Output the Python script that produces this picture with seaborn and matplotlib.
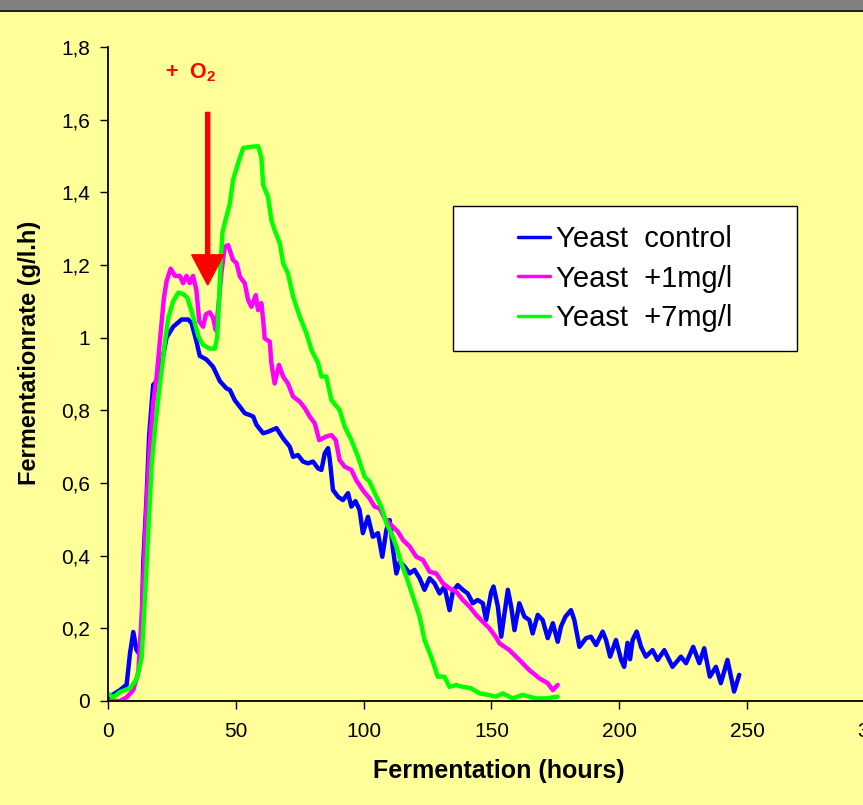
import pandas as pd
import matplotlib
matplotlib.use("Agg")
import matplotlib.pyplot as plt
import seaborn as sns
from matplotlib.patches import Rectangle, FancyArrow
from matplotlib.lines import Line2D

# values
hours_control = [0, 2.5, 4.7, 7.3, 8.6, 9.9, 11.2, 12.2, 13.2, 13.8, 15.1, 16.1, 17.1, 17.7, 19.0,
                 21.0, 22.9, 25.5, 28.8, 31.4, 32.7, 34.6, 35.9, 38.5, 41.1, 43.8, 46.4, 47.7, 49.6,
                 51.6, 53.5, 55.5, 56.8, 58.1, 60.7, 62.6, 65.9, 68.5, 71.1, 72.4, 74.3, 76.3, 78.2,
                 80.2, 82.2, 83.5, 84.8, 86.1, 86.7, 88.0, 90.0, 91.9, 93.9, 95.2, 96.8, 98.4, 99.7,
                 101.7, 103.6, 105.6, 107.3, 108.9, 110.2, 111.5, 112.8, 114.1, 116.0, 118.0, 119.9,
                 121.9, 123.8, 125.8, 127.7, 129.7, 131.6, 133.6, 134.9, 136.8, 138.8, 140.7, 142.7,
                 144.6, 146.6, 147.9, 149.9, 150.8, 152.5, 153.8, 155.1, 156.4, 157.7, 159.0, 160.9,
                 162.9, 164.8, 166.1, 168.1, 170.0, 172.0, 174.0, 175.9, 177.2, 178.9, 181.1, 182.4,
                 184.4, 187.0, 188.9, 190.9, 193.5, 194.8, 196.4, 198.7, 200.7, 201.9, 203.2, 204.2,
                 205.2, 206.8, 208.5, 210.4, 213.0, 215.0, 217.6, 220.8, 224.1, 226.1, 228.9, 231.3,
                 233.2, 235.4, 237.8, 239.7, 242.3, 244.9, 246.9]
rate_control = [0.01, 0.02, 0.03, 0.045, 0.13, 0.19, 0.14, 0.13, 0.19, 0.38, 0.56, 0.73, 0.82, 0.87, 0.88,
                0.93, 1.00, 1.03, 1.05, 1.05, 1.04, 0.99, 0.95, 0.94, 0.92, 0.88, 0.86, 0.856, 0.828,
                0.81, 0.792, 0.787, 0.783, 0.76, 0.737, 0.741, 0.751, 0.723, 0.70, 0.672, 0.677, 0.659, 0.654,
                0.659, 0.64, 0.636, 0.682, 0.696, 0.668, 0.581, 0.562, 0.553, 0.572, 0.535, 0.55, 0.526, 0.462,
                0.507, 0.452, 0.462, 0.397, 0.471, 0.498, 0.416, 0.351, 0.383, 0.37, 0.351, 0.361,
                0.338, 0.306, 0.338, 0.324, 0.296, 0.315, 0.25, 0.301, 0.319, 0.306, 0.296, 0.269,
                0.278, 0.269, 0.223, 0.30, 0.315, 0.26, 0.177, 0.241, 0.306, 0.26, 0.195, 0.269,
                0.232, 0.223, 0.186, 0.237, 0.223, 0.173, 0.214, 0.163, 0.205, 0.232, 0.25, 0.223,
                0.149, 0.173, 0.177, 0.154, 0.191, 0.168, 0.122, 0.168, 0.113, 0.094, 0.16, 0.115,
                0.168, 0.191, 0.149, 0.122, 0.14, 0.113, 0.14, 0.094, 0.122, 0.104, 0.149, 0.104,
                0.145, 0.067, 0.094, 0.049, 0.113, 0.026, 0.072]

hours_1mg = [0, 4.7, 7.3, 9.9, 11.9, 13.2, 14.1, 15.1, 16.4, 17.7, 19.0, 20.3, 21.9, 22.9, 24.5, 26.2,
             28.1, 29.4, 30.7, 32.0, 33.3, 34.6, 35.7, 37.2, 38.3, 39.8, 41.1, 42.2, 43.1, 44.4, 45.7,
             47.0, 48.9, 50.3, 51.6, 53.5, 54.8, 56.1, 57.8, 58.7, 60.0, 60.7, 61.3, 63.3, 63.9, 65.2,
             66.9, 68.5, 70.4, 72.4, 75.0, 77.0, 78.9, 80.9, 82.6, 85.4, 87.4, 89.1, 90.6, 92.6, 95.2,
             97.1, 99.7, 102.3, 104.3, 106.3, 108.2, 110.8, 113.4, 115.4, 118.0, 120.6, 123.2, 125.8,
             128.4, 131.0, 133.6, 136.2, 138.8, 141.4, 144.0, 146.6, 149.2, 151.8, 153.1, 157.0, 160.9,
             164.8, 168.8, 172.0, 174.0, 175.9]
rate_1mg = [0.0, 0.0, 0.01, 0.03, 0.08, 0.24, 0.38, 0.54, 0.71, 0.82, 0.89, 0.99, 1.11, 1.155, 1.19, 1.17,
            1.17, 1.15, 1.17, 1.15, 1.17, 1.13, 1.045, 1.03, 1.064, 1.07, 1.055, 1.02, 1.08, 1.18, 1.25,
            1.255, 1.214, 1.205, 1.168, 1.15, 1.104, 1.085, 1.117, 1.076, 1.095, 1.049, 0.998, 0.989, 0.93, 0.874,
            0.925, 0.893, 0.874, 0.838, 0.824, 0.806, 0.783, 0.764, 0.718, 0.728, 0.732, 0.718, 0.663, 0.645, 0.636,
            0.608, 0.58, 0.558, 0.535, 0.53, 0.503, 0.484, 0.466, 0.443, 0.425, 0.397, 0.388, 0.356,
            0.351, 0.324, 0.31, 0.301, 0.278, 0.26, 0.237, 0.218, 0.2, 0.175, 0.159, 0.14, 0.113,
            0.085, 0.062, 0.049, 0.03, 0.044]

hours_7mg = [0, 2.1, 4.7, 8.6, 11.2, 13.2, 14.5, 15.8, 17.1, 18.4, 19.7, 21.0, 22.3, 23.6, 25.5, 27.5,
             29.4, 31.0, 32.7, 34.0, 35.3, 37.2, 39.8, 41.8, 42.7, 43.5, 44.0, 44.8, 46.2, 47.7, 48.9,
             50.9, 52.9, 55.5, 58.7, 60.0, 60.7, 62.6, 63.9, 65.2, 67.2, 68.5, 70.4, 72.4, 75.0, 77.6,
             79.6, 82.2, 83.5, 85.4, 87.4, 90.6, 92.6, 95.2, 97.8, 100.4, 102.3, 105.0, 106.9, 108.9,
             110.8, 112.8, 114.7, 116.7, 119.3, 121.9, 123.8, 126.4, 129.0, 131.6, 133.6, 136.2, 138.8,
             142.0, 145.3, 148.6, 151.8, 154.4, 158.3, 162.2, 164.8, 167.4, 171.4, 175.9]
rate_7mg = [0.02, 0.01, 0.025, 0.035, 0.06, 0.12, 0.29, 0.47, 0.65, 0.75, 0.835, 0.91, 0.99, 1.055, 1.10, 1.124,
            1.12, 1.11, 1.073, 1.04, 1.005, 0.98, 0.97, 0.97, 1.0, 1.11, 1.20, 1.29, 1.33, 1.37, 1.434,
            1.48, 1.522, 1.525, 1.527, 1.497, 1.42, 1.388, 1.324, 1.296, 1.26, 1.205, 1.177, 1.113, 1.058, 1.012,
            0.966, 0.93, 0.893, 0.893, 0.828, 0.801, 0.755, 0.718, 0.672, 0.617, 0.604, 0.562, 0.535, 0.489,
            0.462, 0.425, 0.379, 0.342, 0.287, 0.232, 0.168, 0.122, 0.067, 0.067, 0.039, 0.044, 0.039,
            0.035, 0.021, 0.017, 0.012, 0.021, 0.007, 0.017, 0.012, 0.007, 0.007, 0.012]

series_names = ["Yeast  control", "Yeast  +1mg/l", "Yeast  +7mg/l"]
series_colors = ["#0000FF", "#FF00FF", "#00FF00"]
x_ticks = [0, 50, 100, 150, 200, 250, 300]
y_ticks = [0, 0.2, 0.4, 0.6, 0.8, 1.0, 1.2, 1.4, 1.6, 1.8]
y_tick_labels = ["0", "0,2", "0,4", "0,6", "0,8", "1", "1,2", "1,4", "1,6", "1,8"]

df = pd.concat([
    pd.DataFrame({"hours": hours_control, "rate": rate_control, "series": series_names[0]}),
    pd.DataFrame({"hours": hours_1mg, "rate": rate_1mg, "series": series_names[1]}),
    pd.DataFrame({"hours": hours_7mg, "rate": rate_7mg, "series": series_names[2]}),
], ignore_index=True)

sns.set_style("ticks")
plt.rcParams["font.family"] = ["Liberation Sans", "DejaVu Sans"]
plt.rcParams["text.color"] = "black"
plt.rcParams["axes.labelcolor"] = "black"
plt.rcParams["mathtext.fontset"] = "custom"
plt.rcParams["mathtext.rm"] = "Liberation Sans"
plt.rcParams["mathtext.bf"] = "Liberation Sans:bold"

bg = "#FFFF99"
fig = plt.figure(figsize=(8.63, 8.05), dpi=100, facecolor=bg)
ax = fig.add_axes([0.1251, 0.1292, 0.8888, 0.8124])
ax.set_facecolor(bg)

sns.lineplot(data=df, x="hours", y="rate", hue="series", hue_order=series_names,
             palette=series_colors, linewidth=3.2, estimator=None, sort=False,
             legend=False, ax=ax)

ax.set_xlim(0, 300)
ax.set_ylim(0, 1.8)
ax.set_xticks(x_ticks)
ax.set_yticks(y_ticks)
ax.set_yticklabels(y_tick_labels)
ax.tick_params(axis="both", direction="out", length=6, width=1, colors="black", labelsize=15)
ax.tick_params(axis="x", pad=9)
ax.tick_params(axis="y", pad=7)
sns.despine(ax=ax)
for side in ["left", "bottom"]:
    ax.spines[side].set_color("black")
    ax.spines[side].set_linewidth(1.3)

ax.set_xlabel("Fermentation (hours)", fontsize=18, fontweight="bold", color="black")
ax.set_ylabel("Fermentationrate (g/l.h)", fontsize=17, fontweight="bold", color="black")
ax.xaxis.set_label_coords(0.51, -0.088)
ax.yaxis.set_label_coords(-0.087, 0.533)

# legend box
ax.add_patch(Rectangle((0.45, 0.535), 0.448, 0.222, transform=ax.transAxes,
                       facecolor="white", edgecolor="black", linewidth=1, zorder=4))
handles = [Line2D([], [], color=c, linewidth=2.5) for c in series_colors]
leg = ax.legend(handles, series_names, loc="center", bbox_to_anchor=(0.674, 0.646),
                bbox_transform=ax.transAxes, frameon=False, fontsize=21,
                handlelength=1.1, handletextpad=0.2, labelspacing=0.4)
leg.set_zorder(5)
for t in leg.get_texts():
    t.set_color("black")

# oxygen addition marker
ax.add_patch(FancyArrow(39, 1.62, 0, -0.475, width=1.6, head_width=12.5, head_length=0.083,
                        length_includes_head=True, color="#FF0000", zorder=6))
ax.text(22.3, 1.73, r"+  O$_\mathbf{2}$", color="#FF0000", fontsize=15.5, fontweight="bold",
        ha="left", va="center")

# grey strip at the top
fig.add_artist(Rectangle((0, 1 - 10 / 805), 1, 10 / 805, transform=fig.transFigure,
                         facecolor="#808080", edgecolor="none"))
fig.add_artist(Rectangle((0, 1 - 12 / 805), 1, 2 / 805, transform=fig.transFigure,
                         facecolor="#202020", edgecolor="none"))

fig.savefig("out.png", dpi=100, facecolor=fig.get_facecolor())
